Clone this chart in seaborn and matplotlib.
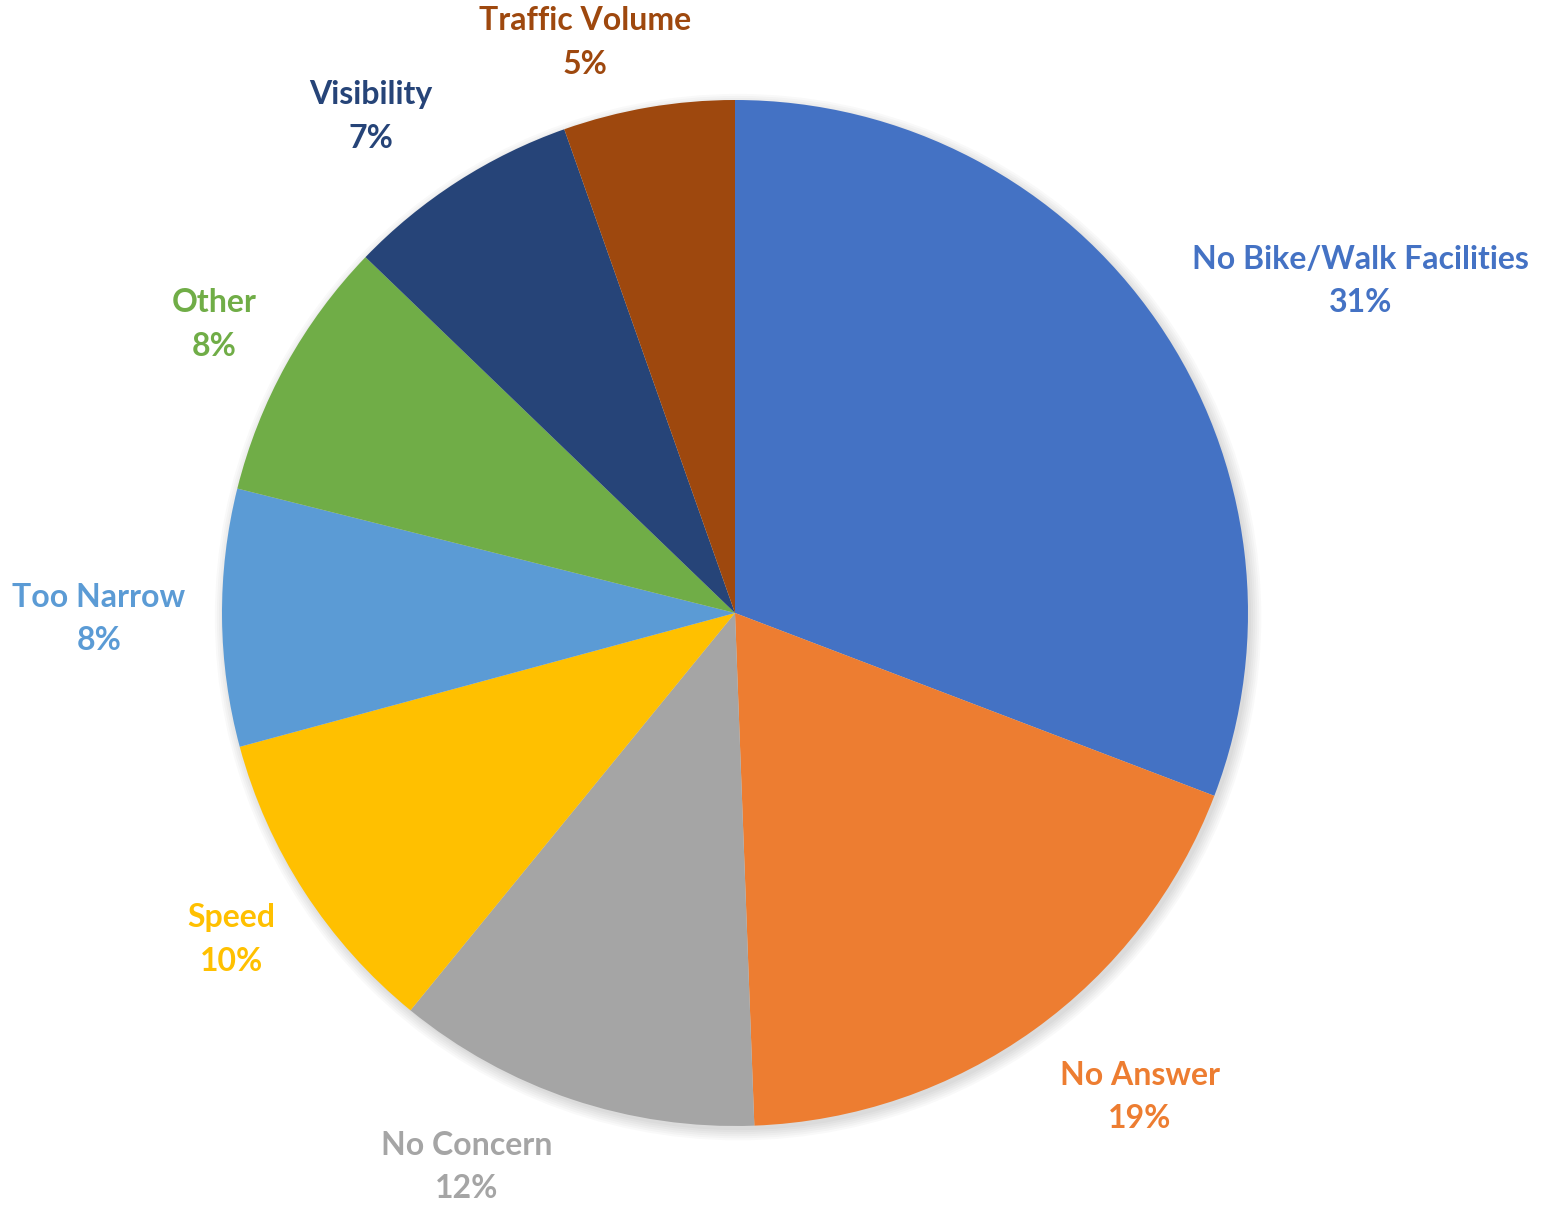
import numpy as np
import seaborn as sns
import matplotlib.pyplot as plt

sns.set_theme(style="white")
plt.rcParams['font.family'] = ['Lato', 'DejaVu Sans']

# survey answers (share of responses, %)
categories = ["No Bike/Walk Facilities", "No Answer", "No Concern", "Speed",
              "Too Narrow", "Other", "Visibility", "Traffic Volume"]
shares = [30.8, 18.6, 11.5, 9.9, 8.1, 8.3, 7.4, 5.4]
colors = sns.color_palette(["#4472C4", "#ED7D31", "#A5A5A5", "#FFC000",
                            "#5B9BD5", "#70AD47", "#264478", "#9E480E"])

# label placement: distance (in radii) and angle nudge (deg) from slice middle
label_dist = [1.38, 1.23, 1.2, 1.17, 1.24, 1.16, 1.2, 1.15]
label_nudge = [-6.6, 4.3, -7.3, 0, 0, 0, 3.5, 5.0]

fig = plt.figure(figsize=(15.47, 12.05), dpi=100)
ax = fig.add_axes([0, 0, 1, 1])

# soft shadow behind the pie
for k in range(6):
    ax.add_patch(plt.Circle((0.006, -0.008), 1 + 0.004 * k, color="black",
                            alpha=0.025, lw=0, zorder=0))

wedges, _ = ax.pie(shares, colors=colors, startangle=90, counterclock=False,
                   wedgeprops=dict(linewidth=0, zorder=1))

for w, name, val, d, nd, c in zip(wedges, categories, shares, label_dist,
                                  label_nudge, colors):
    ang = np.deg2rad((w.theta1 + w.theta2) / 2 + nd)
    ax.text(d * np.cos(ang), d * np.sin(ang), f"{name}\n{val:.0f}%",
            ha="center", va="center", color=c, fontsize=23,
            fontweight="bold", linespacing=1.6)

ax.set_aspect("auto")
ax.set_xlim(-735 / 513, (1547 - 735) / 513)
ax.set_ylim(-(1205 - 613) / 513, 613 / 513)
ax.axis("off")

fig.savefig("out.png", dpi=100, facecolor="white")
